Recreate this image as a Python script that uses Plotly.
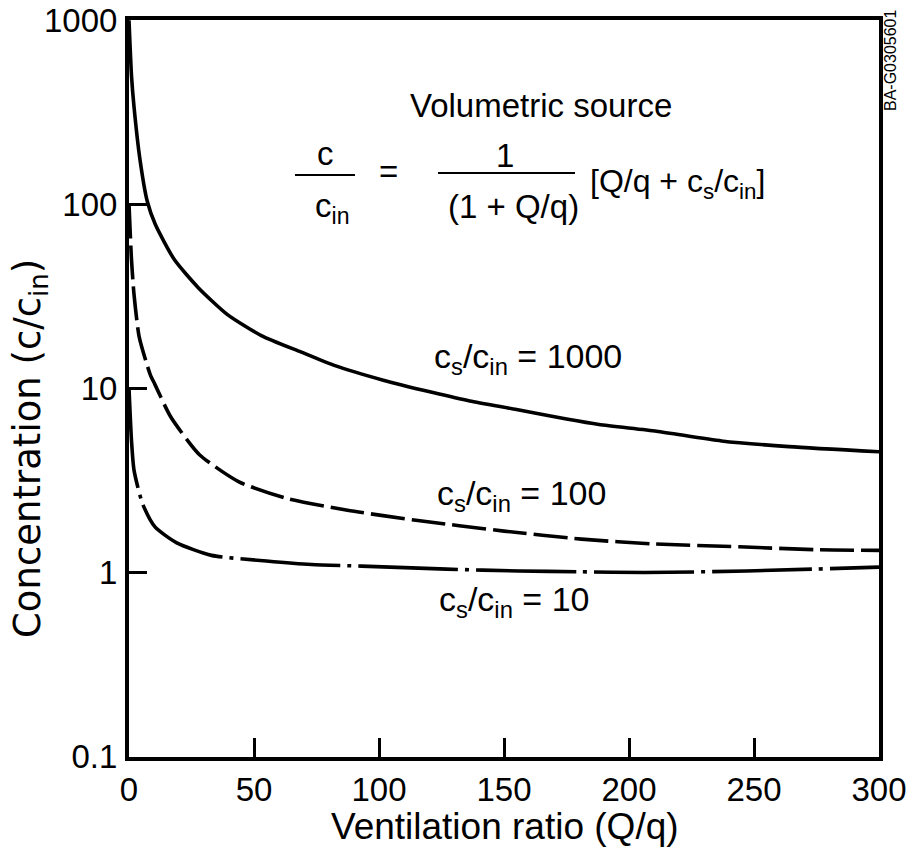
import plotly.graph_objects as go

# Ventilation ratio (Q/q) and concentration (c/c_in)
q_1000 = [0, 1, 2, 4.4, 7.3, 10.5, 18.2, 27.7, 39.4, 52.9, 68.7, 81.8, 101.7,
          121.6, 136.3, 155, 175, 188, 211, 237, 264, 300]
c_1000 = [1000, 500, 340, 175, 104, 78, 50, 35.3, 25.2, 19.4, 15.8, 13.4, 11.1,
          9.5, 8.55, 7.69, 6.82, 6.37, 5.86, 5.19, 4.83, 4.53]

q_100 = [0, 1, 2, 4.1, 8.5, 10.4, 16.6, 28.2, 44, 63, 87.4, 114, 150, 181,
         210, 244, 276, 300]
c_100 = [100, 50, 32.5, 19.0, 11.9, 10.5, 7.05, 4.37, 3.11, 2.53, 2.18, 1.93,
         1.68, 1.52, 1.43, 1.38, 1.33, 1.32]

q_10 = [0, 1, 2, 5.4, 10.4, 19.1, 33, 55, 73, 93, 127, 156, 180, 206, 247, 300]
c_10 = [10, 5.2, 3.6, 2.37, 1.77, 1.45, 1.24, 1.156, 1.106, 1.084, 1.044, 1.02,
        1.01, 1.0, 1.02, 1.07]

x_ticks = [0, 50, 100, 150, 200, 250, 300]
y_ticks = [0.1, 1, 10, 100, 1000]
y_tick_text = ["0.1", "1", "10", "100", "1000"]

FONT = "Liberation Sans, Arial, Helvetica, sans-serif"
WIDE = "DejaVu Sans, Liberation Sans, Arial, sans-serif"

fig = go.Figure()
fig.add_trace(go.Scatter(x=q_1000, y=c_1000, mode="lines",
                         line=dict(color="black", width=3.6, shape="spline", smoothing=0.6)))
fig.add_trace(go.Scatter(x=q_100, y=c_100, mode="lines",
                         line=dict(color="black", width=3.6, shape="spline", smoothing=0.6,
                                   dash="34px,7px")))
fig.add_trace(go.Scatter(x=q_10, y=c_10, mode="lines",
                         line=dict(color="black", width=3.6, shape="spline", smoothing=0.6,
                                   dash="100px,7px,4px,7px")))

L, R, T, B = 129, 41, 20, 93
W, H = 920, 850
pw, ph = W - L - R, H - T - B


def px(xpix):
    return (xpix - L) / pw


def py(ypix):
    return (H - B - ypix) / ph


annotations = []


def ann(text, xpix, ypix, size=30, family=FONT, yanchor="middle", **kw):
    annotations.append(dict(text=text, x=px(xpix), y=py(ypix), xref="paper", yref="paper",
                            showarrow=False, xanchor="center", yanchor=yanchor,
                            font=dict(family=family, size=size, color="black"), **kw))


ann("Volumetric source", 541, 105, size=33)
ann("c", 325, 154, size=33)
ann("c<sub>in</sub>", 332, 208, size=33)
ann("=", 388, 172, size=33)
ann("1", 505, 155, size=33)
ann("(1 + Q/q)", 513, 207, size=33)
ann("[Q/q + c<sub>s</sub>/c<sub>in</sub>]", 677, 183, size=32)
ann("c<sub>s</sub>/c<sub>in</sub> = 1000", 528, 358, size=34)
ann("c<sub>s</sub>/c<sub>in</sub> = 100", 521, 496, size=34)
ann("c<sub>s</sub>/c<sub>in</sub> = 10", 514, 601, size=34)
ann("BA-G0305601", 891, 60, size=16, textangle=-90)
ann("Ventilation ratio (Q/q)", 505, 849, size=37, yanchor="bottom")
ann("Concentration (c/c<sub>in</sub>)", 30, 449, size=37, family=WIDE, textangle=-90)

shapes = [
    dict(type="line", xref="paper", yref="paper", x0=px(295), x1=px(355), y0=py(175), y1=py(175),
         line=dict(color="black", width=2.2)),
    dict(type="line", xref="paper", yref="paper", x0=px(438), x1=px(575), y0=py(173), y1=py(173),
         line=dict(color="black", width=2.2)),
]

fig.update_layout(
    width=W, height=H,
    margin=dict(l=L, r=R, t=T, b=B, autoexpand=False),
    paper_bgcolor="white", plot_bgcolor="white",
    showlegend=False,
    font=dict(family=FONT, color="black"),
    annotations=annotations,
    shapes=shapes,
    xaxis=dict(range=[0, 300], tickmode="array", tickvals=x_ticks,
               ticks="inside", ticklen=19, tickwidth=3, tickcolor="black",
               showline=True, linewidth=4, linecolor="black", mirror=True,
               showgrid=False, zeroline=False, automargin=False,
               tickfont=dict(family=FONT, size=33, color="black"),
               ticklabelstandoff=0, ticklabeloverflow="allow"),
    yaxis=dict(type="log", range=[-1.002, 3.002], tickmode="array", tickvals=y_ticks,
               ticktext=y_tick_text,
               ticks="inside", ticklen=18, tickwidth=3, tickcolor="black",
               showline=True, linewidth=4, linecolor="black", mirror=True,
               showgrid=False, zeroline=False, automargin=False,
               tickfont=dict(family=FONT, size=33, color="black"),
               ticklabelstandoff=1, ticklabeloverflow="allow"),
)

fig.write_html("out.html")
